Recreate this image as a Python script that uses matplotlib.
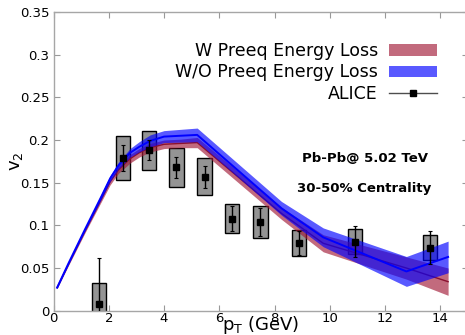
import matplotlib
matplotlib.use("Agg")
import matplotlib.pyplot as plt
from matplotlib.patches import Patch, Rectangle
from matplotlib.lines import Line2D
import numpy as np

# ---- model curves ----
x_model = [0.13, 0.55, 1.15, 1.75, 2.05, 2.35, 2.77, 3.1, 3.5, 4.0, 4.6, 5.2, 8.25, 9.76, 12.77, 14.28]
blue_c = [0.027, 0.056, 0.096, 0.135, 0.155, 0.170, 0.185, 0.192, 0.199, 0.204, 0.205, 0.206, 0.120, 0.086, 0.046, 0.063]
blue_e = [0.001, 0.0015, 0.002, 0.003, 0.0035, 0.004, 0.005, 0.006, 0.007, 0.007, 0.0075, 0.008, 0.008, 0.011, 0.0175, 0.0185]
red_c = [0.027, 0.055, 0.094, 0.132, 0.151, 0.165, 0.178, 0.185, 0.191, 0.195, 0.196, 0.197, 0.114, 0.079, 0.050, 0.034]
red_e = [0.001, 0.0015, 0.002, 0.003, 0.0035, 0.004, 0.005, 0.005, 0.005, 0.005, 0.005, 0.006, 0.007, 0.010, 0.013, 0.016]

# ---- ALICE data ----
alice_x = [1.65, 2.52, 3.45, 4.45, 5.47, 6.47, 7.49, 8.88, 10.9, 13.63]
alice_y = [0.008, 0.179, 0.188, 0.168, 0.157, 0.108, 0.104, 0.079, 0.081, 0.074]
alice_stat = [0.054, 0.015, 0.012, 0.012, 0.013, 0.0145, 0.016, 0.014, 0.018, 0.019]
alice_sys = [0.024, 0.0255, 0.023, 0.023, 0.022, 0.0175, 0.019, 0.015, 0.015, 0.015]

xticks = [0, 2, 4, 6, 8, 10, 12, 14]
yticks = [0, 0.05, 0.1, 0.15, 0.2, 0.25, 0.3, 0.35]
ytick_labels = ["0", "0.05", "0.1", "0.15", "0.2", "0.25", "0.3", "0.35"]

W, H = 465, 335
fig = plt.figure(figsize=(W / 100, H / 100), dpi=100)
ax = fig.add_axes([53.5 / W, 1 - 310.7 / H, (468 - 53.5) / W, (310.7 - 12) / H])

red_col = "#a21a37"
blue_col = "#0000ff"

# systematic boxes
bw = 0.26
for x, y, s in zip(alice_x, alice_y, alice_sys):
    ax.add_patch(Rectangle((x - bw, y - s), 2 * bw, 2 * s, facecolor="k", alpha=0.42,
                           edgecolor="none", zorder=1))
    ax.add_patch(Rectangle((x - bw, y - s), 2 * bw, 2 * s, facecolor="none",
                           edgecolor="k", lw=1.0, zorder=1.1))

xm = np.array(x_model)
rc, re = np.array(red_c), np.array(red_e)
bc, be = np.array(blue_c), np.array(blue_e)
ax.fill_between(xm, rc - re, rc + re, color=red_col, alpha=0.65, lw=0, zorder=2)
ax.plot(xm, rc, color="#8a1030", lw=1.0, zorder=2.1)
ax.fill_between(xm, bc - be, bc + be, color=blue_col, alpha=0.65, lw=0, zorder=3)
ax.plot(xm, bc, color=blue_col, lw=1.4, zorder=3.1)

ax.errorbar(alice_x, alice_y, yerr=alice_stat, fmt="s", color="k", ms=5, lw=1.0,
            capsize=1.5, capthick=0.8, zorder=5)

ax.set_xlim(0, 15)
ax.set_ylim(0, 0.35)
ax.set_xticks(xticks)
ax.set_xticklabels([str(t) for t in xticks])
ax.set_yticks(yticks)
ax.set_yticklabels(ytick_labels)
ax.tick_params(direction="in", top=True, right=True, labelsize=9.5, color="0.6",
               length=4, pad=3)
ax.tick_params(axis="x", pad=1)
for sp in ax.spines.values():
    sp.set_color("0.65")
    sp.set_linewidth(1.0)

ax.set_xlabel(r"$\mathregular{p_T}$ (GeV)", fontsize=13)
ax.xaxis.set_label_coords(0.5, -0.048)
ax.xaxis.label.set_va("center")
ax.set_ylabel(r"$\mathregular{v_2}$", fontsize=13)
ax.yaxis.set_label_coords(-0.09, 0.5)
ax.yaxis.label.set_va("center")

ax.text(11.27, 0.1778, "Pb-Pb@ 5.02 TeV", fontsize=9.5, fontweight="bold",
        ha="center", va="center")
ax.text(11.25, 0.1435, "30-50% Centrality", fontsize=9.5, fontweight="bold",
        ha="center", va="center")

handles = [Patch(facecolor=red_col, alpha=0.65, edgecolor="none"),
           Patch(facecolor=blue_col, alpha=0.65, edgecolor="none"),
           Line2D([], [], color="0.3", lw=1.0, marker="s", ms=5, mfc="k", mec="k")]
labels = ["W Preeq Energy Loss", "W/O Preeq Energy Loss", "ALICE"]
leg = fig.legend(handles, labels, loc="upper right", bbox_to_anchor=(437 / W, 1 - 42 / H),
                 frameon=False, markerfirst=False, fontsize=12.5, handlelength=2.75,
                 handleheight=0.65, handletextpad=0.65, labelspacing=0.2,
                 borderpad=0, borderaxespad=0)

fig.savefig("out.png", dpi=100)
